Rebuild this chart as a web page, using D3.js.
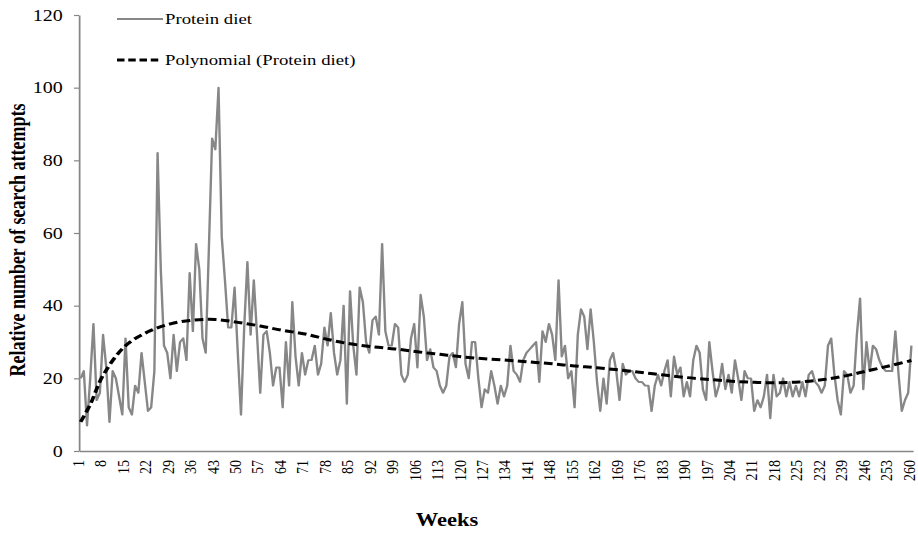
<!DOCTYPE html>
<html>
<head>
<meta charset="utf-8">
<script src="https://cdn.jsdelivr.net/npm/d3@7"></script>
<style>
body { margin: 0; background: #fff; }
svg { display: block; }
</style>
</head>
<body>
<div id="chart"></div>
<script>
// Weekly relative search attempts, weeks 1..260
var weeks = d3.range(1, 261);
var proteinDiet = [
	20,22,7,20,35,14,16,32,23,8,22,20,15,10,31,12,10,18,16,27,19,11,12,22,82,50,29,27,20,32,22,30,
	31,25,49,33,57,50,31,27,56,86,83,100,59,47,34,34,45,27,10,34,52,32,47,32,16,32,33,27,18,23,23,12,30,
	18,41,26,18,27,21,25,25,29,21,24,34,29,38,27,21,25,40,13,44,29,21,45,41,30,27,36,37,32,57,33,29,
	29,35,34,21,19,21,31,35,23,43,37,25,28,23,22,18,16,18,26,27,23,35,41,24,20,30,30,20,12,17,16,22,
	18,13,18,15,18,29,22,21,19,25,27,28,29,30,19,33,30,35,32,25,47,26,29,20,22,12,32,39,37,28,39,30,19,11,
	20,13,25,27,22,14,24,21,22,22,20,19,19,18,18,11,18,21,18,22,25,15,26,21,23,15,19,15,25,29,27,17,
	14,30,22,15,18,24,17,21,16,25,20,14,22,20,20,11,14,12,15,21,9,21,15,16,20,15,19,15,18,15,
	19,15,21,22,19,18,16,18,29,31,21,14,10,22,21,16,18,32,42,17,30,22,29,28,25,23,22,22,22,33,21,11,14,16,29
];

// Polynomial trend line at every 7th week
var trendWeeks = [1,4,8,15,22,29,36,43,50,57,64,71,78,85,92,99,106,113,120,127,134,141,148,155,162,169,176,183,190,197,204,211,218,225,232,239,246,253,260];
var trendValues = [8,12.8,20.8,29,32.8,35,36,36.2,35.4,34.4,33.2,32.2,30.7,29.5,28.7,28.1,27.3,26.6,25.9,25.4,25,24.5,24,23.4,22.9,22.3,21.6,20.9,20.2,19.7,19.2,18.9,18.8,19,19.6,20.6,22,23.4,24.9];

var yTicks = [0, 20, 40, 60, 80, 100, 120];
var xTickWeeks = d3.range(1, 261, 7);

var width = 918, height = 534;
var stretch = 1.25;	// the original figure is stretched sideways
var axisColor = "#868686";
var lineColor = "#878787";
var font = "'Liberation Serif', 'DejaVu Serif', serif";

var svg = d3.select("#chart")
	.append("svg")
	.attr("width", width)
	.attr("height", height);

var g = svg.append("g")
	.attr("transform", "scale(" + stretch + ",1)");

// Scales:
var xScale = d3.scalePoint()
	.domain(weeks)
	.range([79 / stretch, 913 / stretch])
	.padding(0.5);

var yScale = d3.scaleLinear()
	.domain([0, 120])
	.range([451, 15]);

// Y axis:
var yAxis = g.append("g")
	.attr("transform", "translate(" + (79 / stretch) + ",0)")
	.call(d3.axisLeft(yScale).tickValues(yTicks).tickSize(4).tickSizeOuter(0).tickPadding(9));
yAxis.select(".domain").attr("stroke", axisColor).attr("stroke-width", 1.4);
yAxis.selectAll(".tick line").attr("stroke", axisColor).attr("stroke-width", 1.2);
yAxis.selectAll(".tick text")
	.attr("font-family", font)
	.attr("font-size", "16px")
	.attr("fill", "#000");

// X axis:
var xAxis = g.append("g")
	.attr("transform", "translate(0,451)")
	.call(d3.axisBottom(xScale).tickValues(xTickWeeks).tickSize(0).tickSizeOuter(0));
xAxis.select(".domain").attr("stroke", axisColor).attr("stroke-width", 1.4);
xAxis.selectAll(".tick text")
	.attr("font-family", font)
	.attr("font-size", "14px")
	.attr("fill", "#000")
	.attr("transform", "rotate(-90)")
	.attr("text-anchor", "end")
	.attr("x", -9)
	.attr("y", 0)
	.attr("dy", "0.15em");

// Data line:
var dataLine = d3.line()
	.x(function(d, i){ return xScale(weeks[i]); })
	.y(function(d){ return yScale(d); });

g.append("path")
	.datum(proteinDiet)
	.attr("d", dataLine)
	.attr("fill", "none")
	.attr("stroke", lineColor)
	.attr("stroke-width", 1.9)
	.attr("stroke-linejoin", "round");

// Trend line:
var trendLine = d3.line()
	.curve(d3.curveCatmullRom)
	.x(function(d, i){ return xScale(trendWeeks[i]); })
	.y(function(d){ return yScale(d); });

g.append("path")
	.datum(trendValues)
	.attr("d", trendLine)
	.attr("fill", "none")
	.attr("stroke", "#000")
	.attr("stroke-width", 3)
	.attr("stroke-dasharray", "7,3.5");

// Legend:
var legend = g.append("g");
legend.append("line")
	.attr("x1", 117 / stretch).attr("x2", 163 / stretch)
	.attr("y1", 19).attr("y2", 19)
	.attr("stroke", lineColor)
	.attr("stroke-width", 1.9);
legend.append("text")
	.attr("x", 165 / stretch).attr("y", 19)
	.attr("dy", "0.33em")
	.attr("font-family", font)
	.attr("font-size", "15px")
	.text("Protein diet");
legend.append("line")
	.attr("x1", 117 / stretch).attr("x2", 159 / stretch)
	.attr("y1", 60).attr("y2", 60)
	.attr("stroke", "#000")
	.attr("stroke-width", 3)
	.attr("stroke-dasharray", "6,3");
legend.append("text")
	.attr("x", 165 / stretch).attr("y", 60)
	.attr("dy", "0.33em")
	.attr("font-family", font)
	.attr("font-size", "15px")
	.text("Polynomial (Protein diet)");

// Axis titles:
g.append("text")
	.attr("x", 447 / stretch)
	.attr("y", 526)
	.attr("text-anchor", "middle")
	.attr("font-family", font)
	.attr("font-size", "18px")
	.attr("font-weight", "bold")
	.text("Weeks");

g.append("text")
	.attr("transform", "translate(" + (18 / stretch) + ",240) rotate(-90)")
	.attr("text-anchor", "middle")
	.attr("dy", "0.33em")
	.attr("font-family", font)
	.attr("font-size", "18px")
	.attr("font-weight", "bold")
	.text("Relative number of search attempts");
</script>
</body>
</html>
